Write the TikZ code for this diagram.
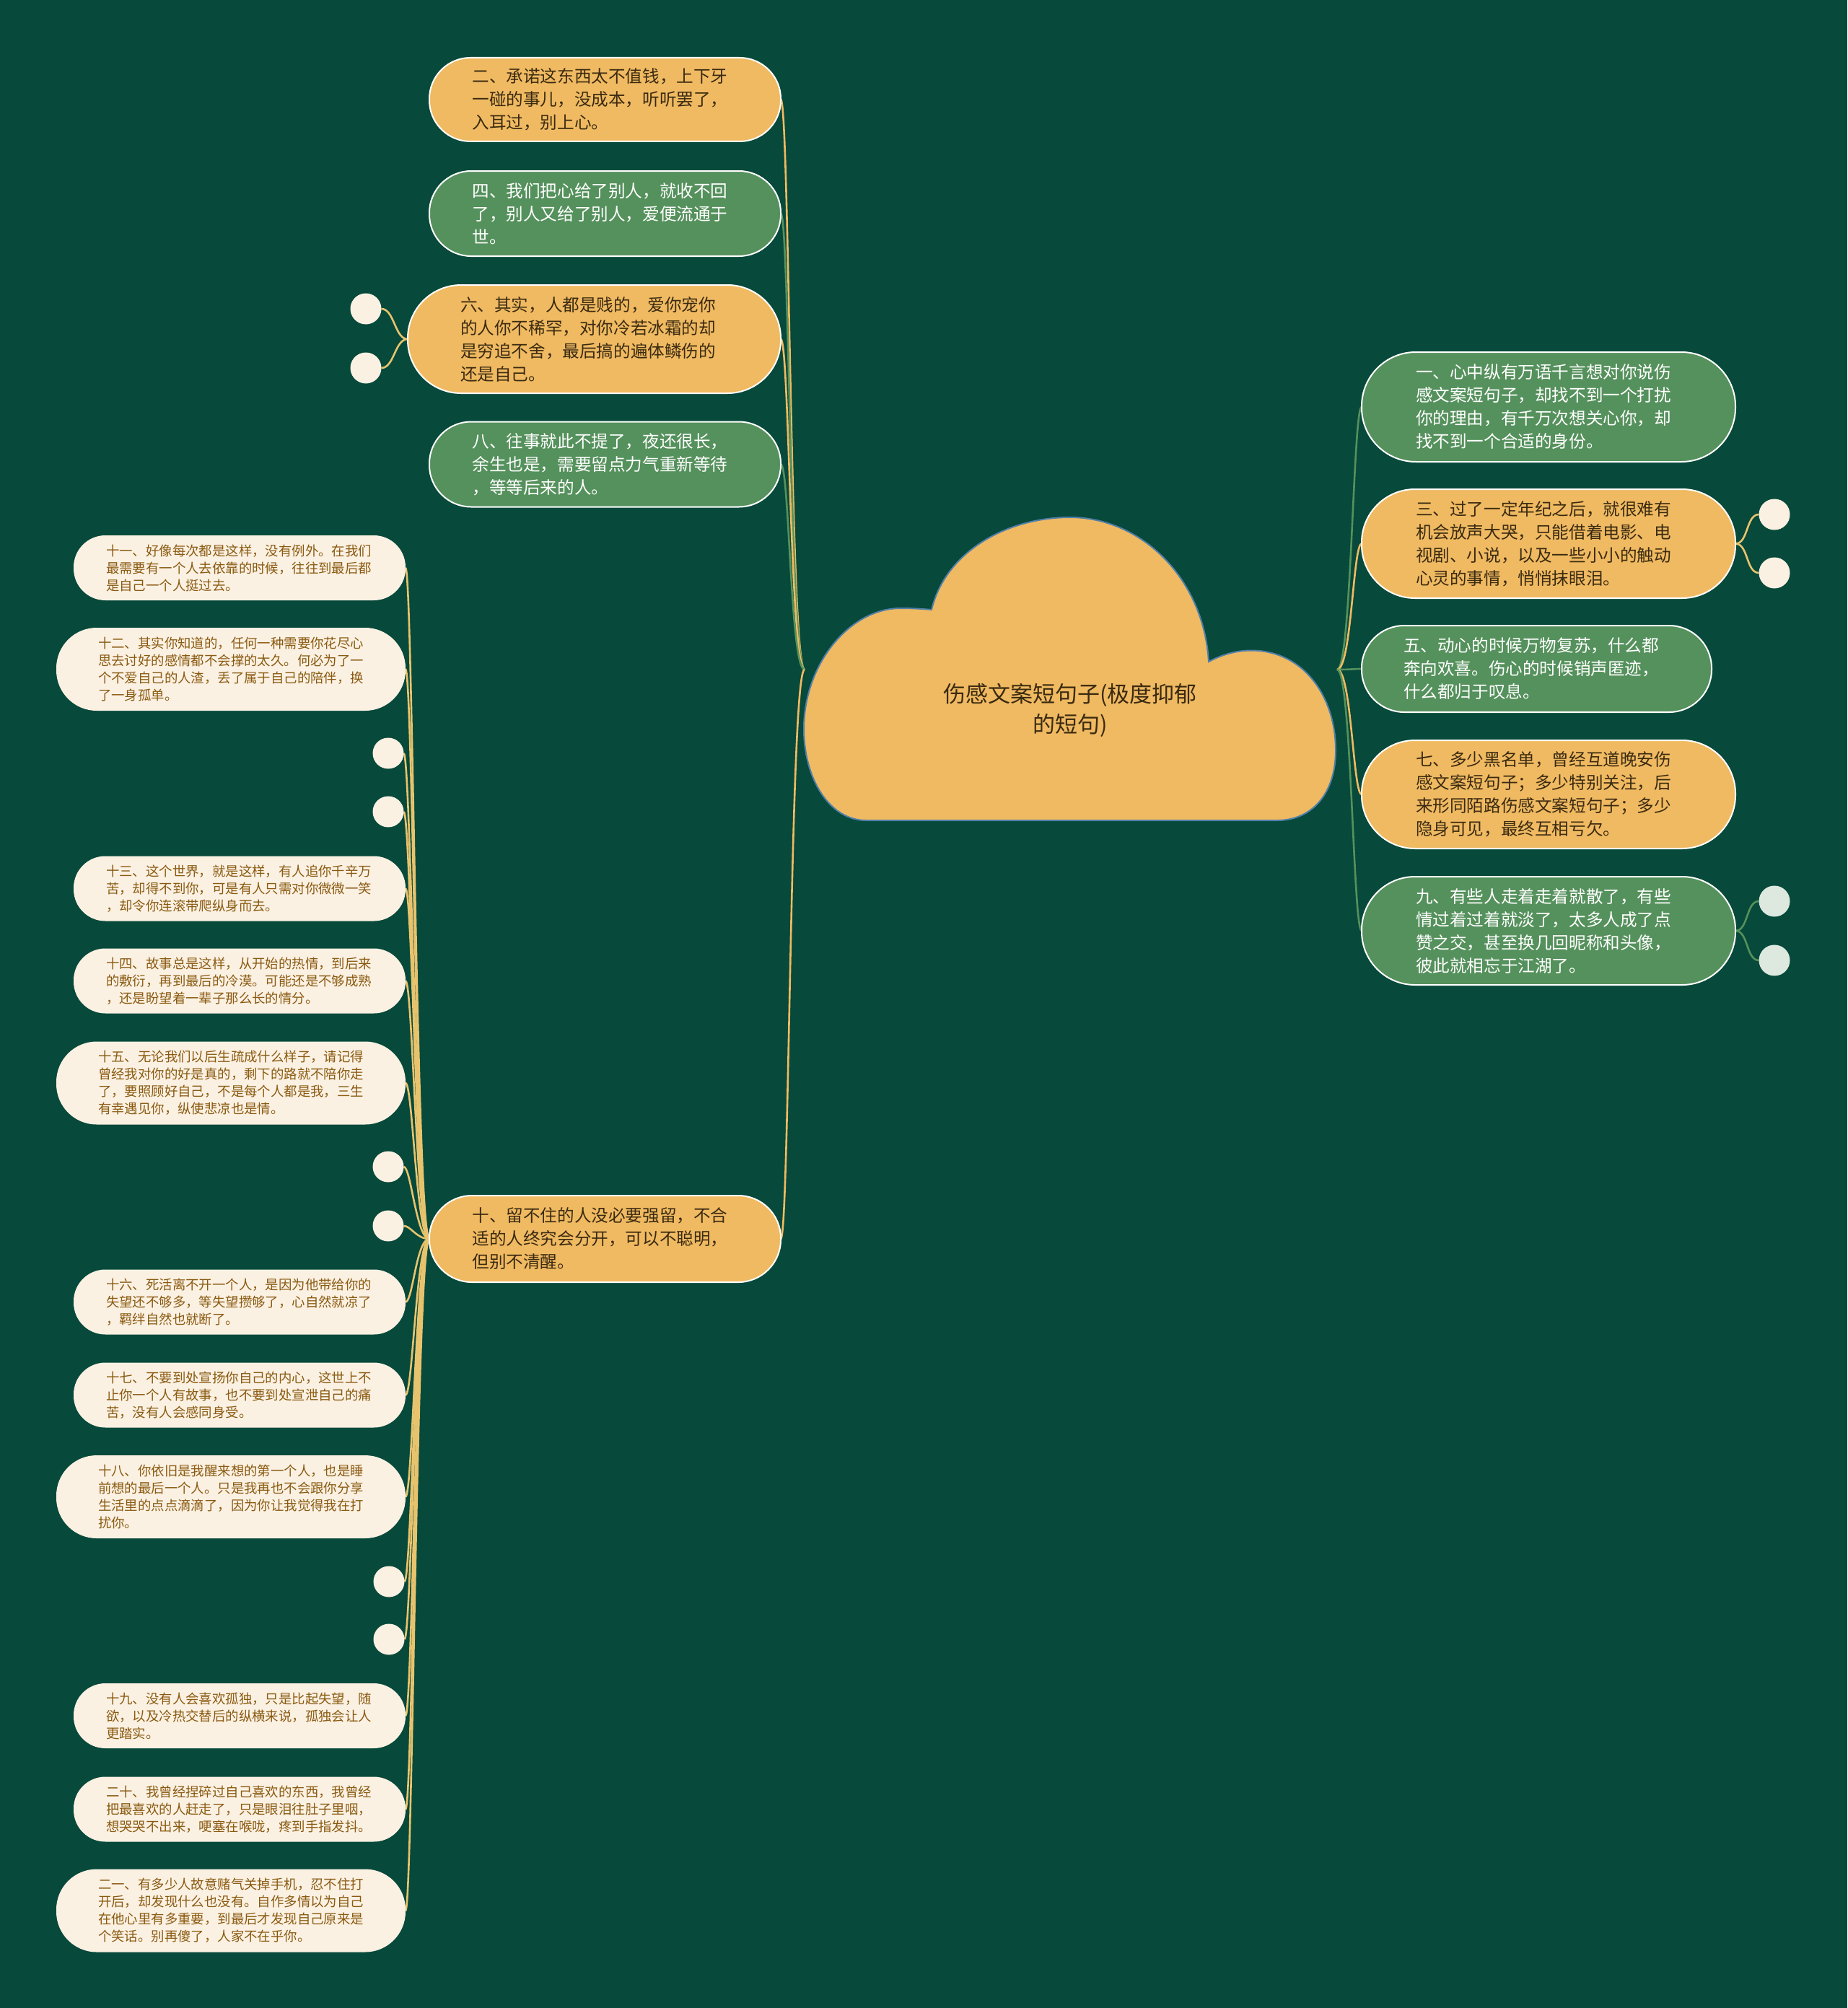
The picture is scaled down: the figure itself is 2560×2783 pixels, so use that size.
\documentclass[tikz,border=0pt]{standalone}
\usepackage{fontspec}
\setmainfont{Noto Sans CJK SC}
\usetikzlibrary{backgrounds,calc}
\definecolor{bgc}{HTML}{07493A}
\definecolor{oc}{HTML}{F0BA62}
\definecolor{gc}{HTML}{55915C}
\definecolor{cc}{HTML}{FBF1E3}
\definecolor{ctext}{HTML}{8A5A10}
\definecolor{otext}{HTML}{3A2A10}
\definecolor{yc}{HTML}{E8C36E}
\definecolor{gcirc}{HTML}{DDE8DF}
\definecolor{cloudline}{HTML}{4F7FA8}
\begin{document}
\begin{tikzpicture}[x=1pt,y=-1pt,
  base/.style={rectangle, align=left, inner sep=0pt, outer sep=0pt},
  onode/.style={base, fill=oc, draw=white, line width=2pt, text=otext, font=\fontsize{23.6}{32}\selectfont, text width=368pt},
  gnode/.style={base, fill=gc, draw=white, line width=2pt, text=white, font=\fontsize{23.6}{32}\selectfont, text width=368pt},
  cnode/.style={base, fill=cc, text=ctext, font=\fontsize{18.4}{24}\selectfont, text width=370pt},
  c3/.style={minimum width=460pt, minimum height=90pt, rounded corners=44pt},
  c4/.style={minimum width=484pt, minimum height=115pt, rounded corners=56pt},
  dot/.style={circle, fill=cc, minimum size=43pt, inner sep=0pt, outer sep=0pt},
  gdot/.style={circle, fill=gcirc, minimum size=43pt, inner sep=0pt, outer sep=0pt},
  conn/.style={line width=2.6pt}
]
\useasboundingbox (0,0) rectangle (2560,2783);

% ---- cloud (root) ----
\path[fill=oc, draw=cloudline, line width=2pt]
  (1291,845) .. controls (1310,765) and (1395,717) .. (1483,717)
  .. controls (1580,717) and (1668,800) .. (1675,917)
  .. controls (1700,904) and (1722,900) .. (1745,902)
  .. controls (1810,908) and (1851,968) .. (1851,1040)
  .. controls (1851,1100) and (1818,1137) .. (1770,1137)
  -- (1200,1137)
  .. controls (1150,1137) and (1114,1080) .. (1114,1010)
  .. controls (1114,920) and (1178,843) .. (1248,843)
  .. controls (1265,843) and (1280,844) .. (1291,845) -- cycle;
\node[align=center, text=otext, font=\fontsize{31}{42}\selectfont, inner sep=0pt] (root) at (1483,984) {伤感文案短句子(极度抑郁\\的短句)};
\coordinate (rootL) at (1115,928);
\coordinate (rootR) at (1853,928);

% ---- left main nodes ----
\node[onode, minimum width=487pt, minimum height=116pt, rounded corners=57pt] (n2) at (838.5,138) {二、承诺这东西太不值钱，上下牙\\一碰的事儿，没成本，听听罢了，\\入耳过，别上心。};
\node[gnode, minimum width=487pt, minimum height=118pt, rounded corners=58pt] (n4) at (838.5,296) {四、我们把心给了别人，就收不回\\了，别人又给了别人，爱便流通于\\世。};
\node[onode, text width=371pt, minimum width=517pt, minimum height=150pt, rounded corners=74pt] (n6) at (823.5,470) {六、其实，人都是贱的，爱你宠你\\的人你不稀罕，对你冷若冰霜的却\\是穷追不舍，最后搞的遍体鳞伤的\\还是自己。};
\node[gnode, minimum width=487pt, minimum height=118pt, rounded corners=58pt] (n8) at (838.5,643.5) {八、往事就此不提了，夜还很长，\\余生也是，需要留点力气重新等待\\，等等后来的人。};
\node[onode, minimum width=487pt, minimum height=120pt, rounded corners=59pt] (n10) at (838.5,1717) {十、留不住的人没必要强留，不合\\适的人终究会分开，可以不聪明，\\但别不清醒。};

% ---- right main nodes ----
\node[gnode, minimum width=518pt, minimum height=152pt, rounded corners=75pt] (n1) at (2146,564) {一、心中纵有万语千言想对你说伤\\感文案短句子，却找不到一个打扰\\你的理由，有千万次想关心你，却\\找不到一个合适的身份。};
\node[onode, minimum width=518pt, minimum height=151pt, rounded corners=74pt] (n3) at (2146,753.5) {三、过了一定年纪之后，就很难有\\机会放声大哭，只能借着电影、电\\视剧、小说，以及一些小小的触动\\心灵的事情，悄悄抹眼泪。};
\node[gnode, text width=369pt, minimum width=485pt, minimum height=120pt, rounded corners=59pt] (n5) at (2129.5,927) {五、动心的时候万物复苏，什么都\\奔向欢喜。伤心的时候销声匿迹，\\什么都归于叹息。};
\node[onode, minimum width=518pt, minimum height=150pt, rounded corners=74pt] (n7) at (2146,1101) {七、多少黑名单，曾经互道晚安伤\\感文案短句子；多少特别关注，后\\来形同陌路伤感文案短句子；多少\\隐身可见，最终互相亏欠。};
\node[gnode, minimum width=518pt, minimum height=150pt, rounded corners=74pt] (n9) at (2146,1290) {九、有些人走着走着就散了，有些\\情过着过着就淡了，太多人成了点\\赞之交，甚至换几回昵称和头像，\\彼此就相忘于江湖了。};

% ---- small dots ----
\node[dot] (d6a) at (507,428) {};
\node[dot] (d6b) at (507,510) {};
\node[dot] (d3a) at (2459,713) {};
\node[dot] (d3b) at (2459,794) {};
\node[gdot] (d9a) at (2459,1249) {};
\node[gdot] (d9b) at (2459,1331) {};
\node[dot] (e1) at (538,1044) {};
\node[dot] (e2) at (538,1125) {};
\node[dot] (e3) at (538,1617) {};
\node[dot] (e4) at (538,1699) {};
\node[dot] (e5) at (539,2192) {};
\node[dot] (e6) at (539,2272) {};

% ---- cream nodes ----
\node[cnode, c3] (n11) at (332,787) {十一、好像每次都是这样，没有例外。在我们\\最需要有一个人去依靠的时候，往往到最后都\\是自己一个人挺过去。};
\node[cnode, c4, text width=368pt] (n12) at (320,927.5) {十二、其实你知道的，任何一种需要你花尽心\\思去讨好的感情都不会撑的太久。何必为了一\\个不爱自己的人渣，丢了属于自己的陪伴，换\\了一身孤单。};
\node[cnode, c3] (n13) at (332,1231.5) {十三、这个世界，就是这样，有人追你千辛万\\苦，却得不到你，可是有人只需对你微微一笑\\，却令你连滚带爬纵身而去。};
\node[cnode, c3] (n14) at (332,1359.5) {十四、故事总是这样，从开始的热情，到后来\\的敷衍，再到最后的冷漠。可能还是不够成熟\\，还是盼望着一辈子那么长的情分。};
\node[cnode, c4, text width=368pt] (n15) at (320,1501) {十五、无论我们以后生疏成什么样子，请记得\\曾经我对你的好是真的，剩下的路就不陪你走\\了，要照顾好自己，不是每个人都是我，三生\\有幸遇见你，纵使悲凉也是情。};
\node[cnode, c3] (n16) at (332,1804.5) {十六、死活离不开一个人，是因为他带给你的\\失望还不够多，等失望攒够了，心自然就凉了\\，羁绊自然也就断了。};
\node[cnode, c3] (n17) at (332,1933.5) {十七、不要到处宣扬你自己的内心，这世上不\\止你一个人有故事，也不要到处宣泄自己的痛\\苦，没有人会感同身受。};
\node[cnode, c4, text width=368pt] (n18) at (320,2074.5) {十八、你依旧是我醒来想的第一个人，也是睡\\前想的最后一个人。只是我再也不会跟你分享\\生活里的点点滴滴了，因为你让我觉得我在打\\扰你。};
\node[cnode, c3] (n19) at (332,2378) {十九、没有人会喜欢孤独，只是比起失望，随\\欲，以及冷热交替后的纵横来说，孤独会让人\\更踏实。};
\node[cnode, c3] (n20) at (332,2507.5) {二十、我曾经捏碎过自己喜欢的东西，我曾经\\把最喜欢的人赶走了，只是眼泪往肚子里咽，\\想哭哭不出来，哽塞在喉咙，疼到手指发抖。};
\node[cnode, c4, text width=368pt] (n21) at (320,2648) {二一、有多少人故意赌气关掉手机，忍不住打\\开后，却发现什么也没有。自作多情以为自己\\在他心里有多重要，到最后才发现自己原来是\\个笑话。别再傻了，人家不在乎你。};

% ---- connectors and background ----
\begin{scope}[on background layer]
  \fill[bgc] (0,0) rectangle (2560,2783);
  \foreach \tg/\col in {n2/oc, n4/gc, n6/oc, n8/gc, n10/oc}
    \draw[conn, draw=\col] (rootL) .. controls ($(rootL)+(-20,0)$) and ($(\tg.east)+(12,0)$) .. (\tg.east);
  \foreach \tg/\col in {n1/gc, n3/oc, n5/gc, n7/oc, n9/gc}
    \draw[conn, draw=\col] (rootR) .. controls ($(rootR)+(20,0)$) and ($(\tg.west)+(-12,0)$) .. (\tg.west);
  \foreach \tg in {d6a, d6b}
    \draw[conn, draw=yc] (n6.west) .. controls ($(n6.west)+(-18,0)$) and ($(\tg.east)+(18,0)$) .. (\tg.east);
  \foreach \tg in {d3a, d3b}
    \draw[conn, draw=yc] (n3.east) .. controls ($(n3.east)+(18,0)$) and ($(\tg.west)+(-18,0)$) .. (\tg.west);
  \foreach \tg in {d9a, d9b}
    \draw[conn, draw=gc] (n9.east) .. controls ($(n9.east)+(18,0)$) and ($(\tg.west)+(-18,0)$) .. (\tg.west);
  \foreach \tg in {n11, n12, e1, e2, n13, n14, n15, e3, e4, n16, n17, n18, e5, e6, n19, n20, n21}
    \draw[conn, draw=yc] (n10.west) .. controls ($(n10.west)+(-18,0)$) and ($(\tg.east)+(10,0)$) .. (\tg.east);
\end{scope}
\end{tikzpicture}
\end{document}
